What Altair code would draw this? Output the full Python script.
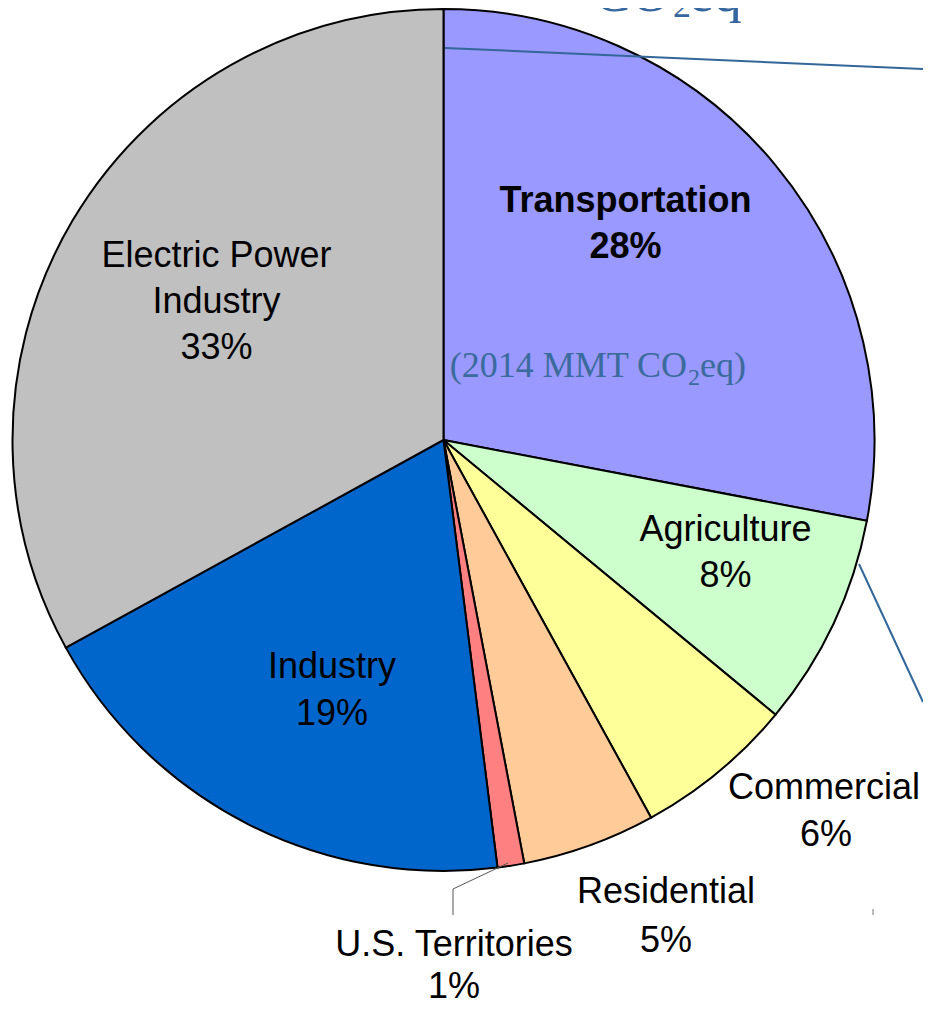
import altair as alt
import pandas as pd

# ---- data ----
sectors = ["Transportation", "Agriculture", "Commercial", "Residential",
           "U.S. Territories", "Industry", "Electric Power Industry"]
shares = [28, 8, 6, 5, 1, 19, 33]
colors = ["#9999FF", "#CCFFCC", "#FFFF99", "#FFCC99", "#FF8080", "#0066CC", "#C0C0C0"]

# label lines (text, page x, page baseline y)
label_lines = ["Transportation", "28%", "Agriculture", "8%", "Commercial", "6%",
               "Residential", "5%", "U.S. Territories", "1%", "Industry", "19%",
               "Electric Power", "Industry", "33%"]
label_bold = [True, True] + [False] * 13
label_x = [625.5, 625.5, 725.5, 725.5, 824, 826, 666, 666, 454, 454, 332, 332, 216.5, 216.5, 216.5]
label_y = [211.5, 258, 541, 587, 799, 846, 903, 952, 956, 998, 678, 725, 266.5, 313, 359]

OFF = 8  # page margin
CX, CY, R = 443.5 - OFF, 440 - OFF, 431

pie_df = pd.DataFrame({"sector": sectors, "share": shares, "idx": list(range(len(sectors)))})

pie = alt.Chart(pie_df).mark_arc(stroke="black", strokeWidth=2, radius=R).encode(
    theta=alt.Theta("share:Q", stack=True),
    color=alt.Color("sector:N", scale=alt.Scale(domain=sectors, range=colors), legend=None),
    order=alt.Order("idx:Q"),
    x=alt.value(CX),
    y=alt.value(CY),
)

lab_df = pd.DataFrame({"t": label_lines, "b": label_bold,
                       "x": [v - OFF for v in label_x], "y": [v - OFF for v in label_y]})

lab_norm = alt.Chart(lab_df[~lab_df.b]).mark_text(
    font="Liberation Sans", fontSize=36, color="black", baseline="alphabetic", align="center"
).encode(x=alt.X("x:Q", scale=None), y=alt.Y("y:Q", scale=None), text="t:N")

lab_bold = alt.Chart(lab_df[lab_df.b]).mark_text(
    font="Liberation Sans", fontSize=36, fontWeight="bold", color="black",
    baseline="alphabetic", align="center"
).encode(x=alt.X("x:Q", scale=None), y=alt.Y("y:Q", scale=None), text="t:N")

# serif annotation pieces
serif_text = ["(2014 MMT CO", "2", "eq)",
              "U.S. Total: 7261 MMT", "CO", "2", "eq"]
serif_x = [687, 688, 700, 55, 671, 673, 689]
serif_y = [377, 385, 377, 6, 11, 17, 11]
serif_size = [36, 24, 36, 56, 56, 36, 56]
serif_align = ["right", "left", "left", "left", "right", "left", "left"]
serif_color = ["#3A6B9C", "#3A6B9C", "#3A6B9C", "#35679E", "#35679E", "#35679E", "#35679E"]

serif_layers = []
for t, x, y, s, a, c in zip(serif_text, serif_x, serif_y, serif_size, serif_align, serif_color):
    d = pd.DataFrame({"t": [t], "x": [x - OFF], "y": [y - OFF]})
    serif_layers.append(
        alt.Chart(d).mark_text(font="Liberation Serif", fontSize=s, color=c,
                               baseline="alphabetic", align=a)
        .encode(x=alt.X("x:Q", scale=None), y=alt.Y("y:Q", scale=None), text="t:N")
    )

# connector lines
line_x1 = [445, 859, 508, 453, 873]
line_y1 = [48, 564, 863, 889, 909]
line_x2 = [923, 923, 453, 453, 873]
line_y2 = [69, 702, 889, 915, 915]
line_col = ["#336699", "#336699", "#555555", "#555555", "#777777"]
line_w = [2, 2, 1, 1, 1]
line_layers = []
for x1, y1, x2, y2, c, w in zip(line_x1, line_y1, line_x2, line_y2, line_col, line_w):
    d = pd.DataFrame({"x": [x1 - OFF], "y": [y1 - OFF], "x2": [x2 - OFF], "y2": [y2 - OFF]})
    line_layers.append(
        alt.Chart(d).mark_rule(color=c, strokeWidth=w).encode(
            x=alt.X("x:Q", scale=None), y=alt.Y("y:Q", scale=None),
            x2="x2:Q", y2="y2:Q")
    )

chart = alt.layer(pie, lab_norm, lab_bold, *serif_layers, *line_layers).properties(
    width=915, height=993, padding=0,
    autosize=alt.AutoSizeParams(type="none"),
    background="white",
).configure_view(stroke=None)

chart.save("out.html", embed_options={"renderer": "svg", "actions": False})
